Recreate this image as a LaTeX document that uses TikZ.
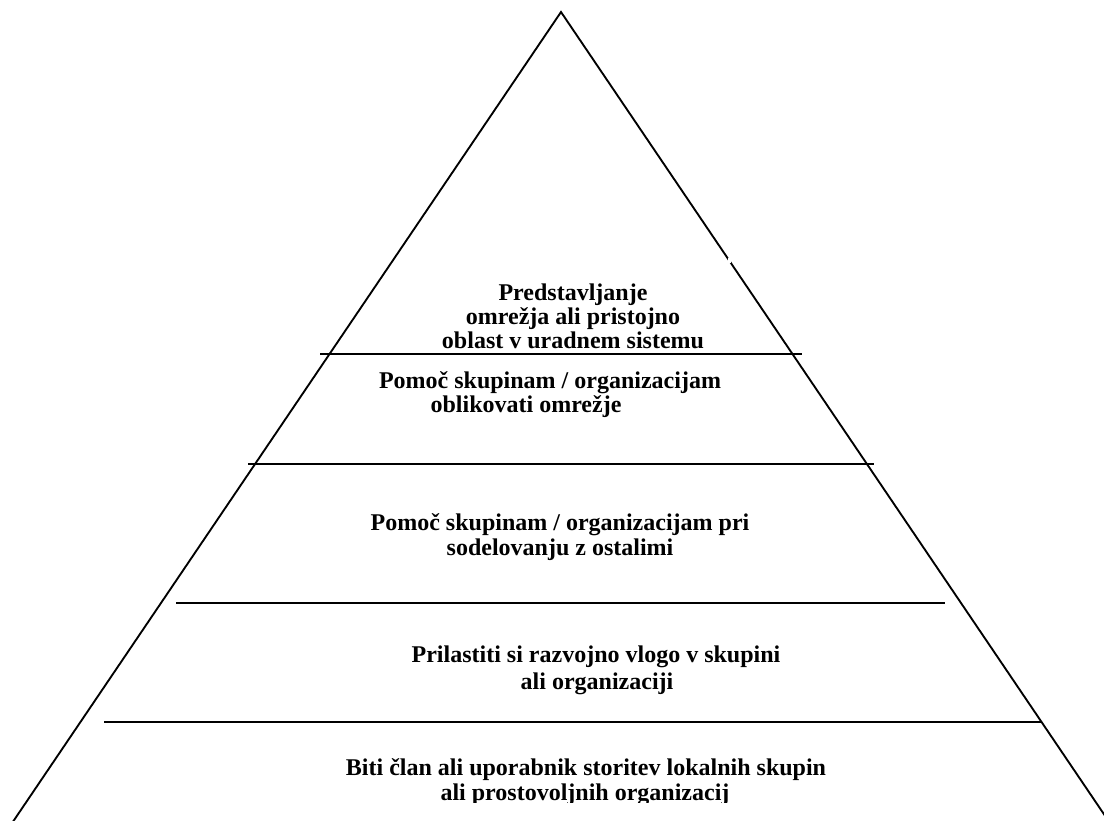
\documentclass[tikz,border=0pt]{standalone}
\usepackage{fontspec}
\setmainfont{Liberation Serif}
\begin{document}
\begin{tikzpicture}[x=0.75pt,y=-0.75pt,
  lbl/.style={font=\bfseries\fontsize{18}{20}\selectfont, anchor=base, inner sep=0pt},
  edge/.style={line width=1.4pt},
  tier/.style={line width=1.4pt}]
\useasboundingbox (0,0) rectangle (1104,821);
\begin{scope}
\clip (0,0) rectangle (1104,821);
% triangle
\coordinate (apex) at (561,12);
\coordinate (bl) at (6,832);
\coordinate (br) at (1116,832);
\draw[edge, line join=miter] (bl) -- (apex) -- (br);
% small gap on the right side
\fill[white] (727.5,257.5) rectangle (730.5,262.5);
% tier lines
\coordinate (t1l) at (320,354); \coordinate (t1r) at (802,354);
\coordinate (t2l) at (248,464); \coordinate (t2r) at (874,464);
\coordinate (t3l) at (176,603); \coordinate (t3r) at (945,603);
\coordinate (t4l) at (104,722); \coordinate (t4r) at (1042,722);
\draw[tier] (t1l) -- (t1r);
\draw[tier] (t2l) -- (t2r);
\draw[tier] (t3l) -- (t3r);
\draw[tier] (t4l) -- (t4r);
% texts
\node[lbl] (a1) at (573,300) {Predstavljanje};
\node[lbl] (a2) at (573,324) {omrežja ali pristojno};
\node[lbl] (a3) at (573,348) {oblast v uradnem sistemu};
\node[lbl] (b1) at (550,388) {Pomoč skupinam / organizacijam};
\node[lbl] (b2) at (526,412) {oblikovati omrežje};
\node[lbl] (c1) at (560,530) {Pomoč skupinam / organizacijam pri};
\node[lbl] (c2) at (560,555) {sodelovanju z ostalimi};
\node[lbl] (d1) at (596,662) {Prilastiti si razvojno vlogo v skupini};
\node[lbl] (d2) at (597,689) {ali organizaciji};
\begin{scope}
\clip (0,0) rectangle (1104,802);
\node[lbl] (e1) at (586,775) {Biti član ali uporabnik storitev lokalnih skupin};
\node[lbl] (e2) at (585,800) {ali prostovoljnih organizacij};
\end{scope}
\end{scope}
\end{tikzpicture}
\end{document}
